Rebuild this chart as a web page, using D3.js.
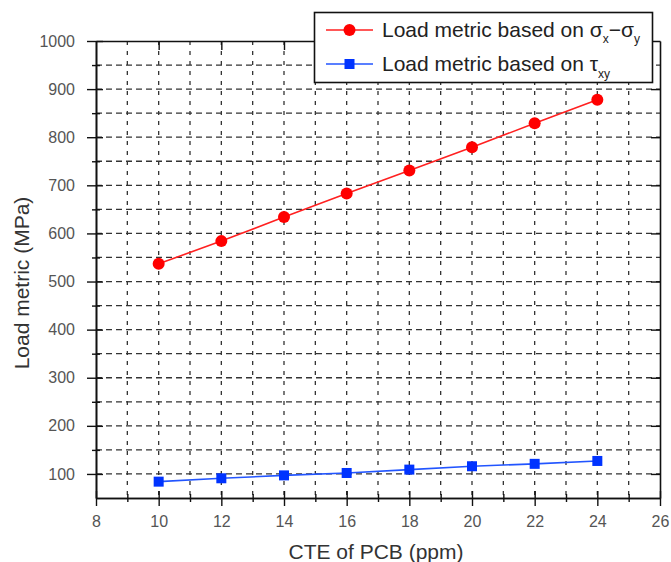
<!DOCTYPE html>
<html>
<head>
    <style>
        body { margin: 0; background: #fff; }
        svg { font-family: "Liberation Sans", Arial, sans-serif; }
        .tick text { fill: #555; font-size: 16px; }
        .grid line { stroke: #333; stroke-width: 1.3; }
    </style>
    <script src="https://d3js.org/d3.v7.min.js"></script>
</head>
<body>
    <svg width="671" height="562"></svg>
    <script>
        // data
        var cte = [10, 12, 14, 16, 18, 20, 22, 24];
        var sigmaLoad = [537, 584, 634, 683, 731, 779, 829, 878];
        var tauLoad = [84, 91, 97, 102, 109, 116, 121, 127];
        var xMajor = [8, 10, 12, 14, 16, 18, 20, 22, 24, 26];
        var xMinor = [9, 11, 13, 15, 17, 19, 21, 23, 25];
        var yMajor = [100, 200, 300, 400, 500, 600, 700, 800, 900, 1000];
        var yMinor = [150, 250, 350, 450, 550, 650, 750, 850, 950];

        var svg = d3.select("svg");
        var pLeft = 96, pRight = 660, pTop = 41, pBottom = 498;

        var x = d3.scaleLinear().domain([8, 26]).range([pLeft, pRight]);
        var y = d3.scaleLinear().domain([50, 1000]).range([pBottom, pTop]);

        // dashed grid
        var grid = svg.append("g").attr("class", "grid");
        grid.selectAll(".h")
            .data(yMajor.concat(yMinor).filter(function (d) { return d < 1000; }))
            .enter().append("line")
            .attr("x1", pLeft).attr("x2", pRight)
            .attr("y1", function (d) { return y(d); })
            .attr("y2", function (d) { return y(d); })
            .attr("stroke-dasharray", "6,4");
        grid.selectAll(".v")
            .data(xMajor.concat(xMinor).filter(function (d) { return d > 8 && d < 26; }))
            .enter().append("line")
            .attr("y1", pTop).attr("y2", pBottom)
            .attr("x1", function (d) { return x(d); })
            .attr("x2", function (d) { return x(d); })
            .attr("stroke-dasharray", "4,6");

        function styleAxis(g) {
            g.select(".domain").attr("stroke", "#111").attr("stroke-width", 1.6);
            g.selectAll(".tick line").attr("stroke", "#111").attr("stroke-width", 1.4);
        }

        // bottom axis: major ticks crossing the line, labels below
        var xb = svg.append("g")
            .attr("transform", "translate(0," + pBottom + ")")
            .call(d3.axisBottom(x).tickValues(xMajor).tickFormat(d3.format("d")).tickSizeOuter(0).tickPadding(12));
        xb.selectAll(".tick line").attr("y1", -7).attr("y2", 8);
        styleAxis(xb);
        var xbm = svg.append("g")
            .attr("transform", "translate(0," + pBottom + ")")
            .call(d3.axisBottom(x).tickValues(xMinor).tickFormat("").tickSizeOuter(0));
        xbm.selectAll(".tick line").attr("y1", -4).attr("y2", 4);
        styleAxis(xbm);

        // left axis
        var yl = svg.append("g")
            .attr("transform", "translate(" + pLeft + ",0)")
            .call(d3.axisLeft(y).tickValues(yMajor).tickFormat(d3.format("d")).tickSizeOuter(0).tickPadding(15));
        yl.selectAll(".tick line").attr("x1", 7).attr("x2", -9);
        styleAxis(yl);
        var ylm = svg.append("g")
            .attr("transform", "translate(" + pLeft + ",0)")
            .call(d3.axisLeft(y).tickValues(yMinor).tickFormat("").tickSizeOuter(0));
        ylm.selectAll(".tick line").attr("x1", 4).attr("x2", -4);
        styleAxis(ylm);

        // top and right axes, ticks pointing inward
        var xt = svg.append("g")
            .attr("transform", "translate(0," + pTop + ")")
            .call(d3.axisTop(x).tickValues(xMajor.slice(1, -1)).tickFormat("").tickSizeOuter(0).tickSizeInner(-9));
        styleAxis(xt);
        var yr = svg.append("g")
            .attr("transform", "translate(" + pRight + ",0)")
            .call(d3.axisRight(y).tickValues(yMajor.slice(0, -1)).tickFormat("").tickSizeOuter(0).tickSizeInner(-9));
        styleAxis(yr);

        // series
        var line = d3.line()
            .x(function (d) { return x(d[0]); })
            .y(function (d) { return y(d[1]); });

        var redPts = cte.map(function (c, i) { return [c, sigmaLoad[i]]; });
        var bluePts = cte.map(function (c, i) { return [c, tauLoad[i]]; });

        svg.append("path").datum(redPts)
            .attr("d", line).attr("fill", "none")
            .attr("stroke", "#ff2020").attr("stroke-width", 1.6);
        svg.selectAll(".dot").data(redPts).enter().append("circle")
            .attr("cx", function (d) { return x(d[0]); })
            .attr("cy", function (d) { return y(d[1]); })
            .attr("r", 6).attr("fill", "#ff0000");

        svg.append("path").datum(bluePts)
            .attr("d", line).attr("fill", "none")
            .attr("stroke", "#2255ff").attr("stroke-width", 1.6);
        svg.selectAll(".sq").data(bluePts).enter().append("rect")
            .attr("x", function (d) { return x(d[0]) - 5; })
            .attr("y", function (d) { return y(d[1]) - 5; })
            .attr("width", 10).attr("height", 10)
            .attr("fill", "#0033ff");

        // axis titles
        svg.append("text")
            .attr("x", (pLeft + pRight) / 2 - 2).attr("y", 559)
            .attr("text-anchor", "middle")
            .attr("font-size", "21px").attr("fill", "#333")
            .text("CTE of PCB (ppm)");
        svg.append("text")
            .attr("transform", "translate(29,283) rotate(-90)")
            .attr("text-anchor", "middle")
            .attr("font-size", "21px").attr("fill", "#333")
            .text("Load metric (MPa)");

        // legend
        var lg = svg.append("g");
        lg.append("rect")
            .attr("x", 314.5).attr("y", 12.5).attr("width", 338).attr("height", 70)
            .attr("fill", "#fff").attr("stroke", "#111").attr("stroke-width", 1.6);

        var r1 = lg.append("g").attr("transform", "translate(0,30)");
        r1.append("line").attr("x1", 326).attr("x2", 373).attr("stroke", "#ff2020").attr("stroke-width", 1.6);
        r1.append("circle").attr("cx", 349.5).attr("r", 6).attr("fill", "#ff0000");
        var t1 = r1.append("text").attr("x", 382).attr("y", 7)
            .attr("font-size", "21px").attr("fill", "#222");
        t1.append("tspan").text("Load metric based on \u03c3");
        t1.append("tspan").attr("font-size", "12px").attr("dy", 6).text("x");
        t1.append("tspan").attr("dy", -6).text("\u2212\u03c3");
        t1.append("tspan").attr("font-size", "12px").attr("dy", 6).text("y");

        var r2 = lg.append("g").attr("transform", "translate(0,64)");
        r2.append("line").attr("x1", 326).attr("x2", 373).attr("stroke", "#2255ff").attr("stroke-width", 1.6);
        r2.append("rect").attr("x", 344.5).attr("y", -5).attr("width", 10).attr("height", 10).attr("fill", "#0033ff");
        var t2 = r2.append("text").attr("x", 382).attr("y", 7)
            .attr("font-size", "21px").attr("fill", "#222");
        t2.append("tspan").text("Load metric based on \u03c4");
        t2.append("tspan").attr("font-size", "12px").attr("dy", 7).text("xy");
    </script>
</body>
</html>
